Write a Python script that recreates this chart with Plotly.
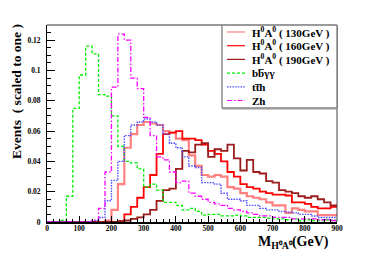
import plotly.graph_objects as go

# ---------------- data (20 GeV bins, 0..900 GeV) ----------------
bin_edges = list(range(0, 901, 20))

h130 = [0, 0, 0, 0, 0, 0, 0, 0, 0, 0.001,
        0.008, 0.025, 0.049, 0.058, 0.064, 0.066, 0.065, 0.064, 0.060, 0.059,
        0.055, 0.054, 0.044, 0.037, 0.031, 0.030, 0.031, 0.030, 0.023, 0.022,
        0.019, 0.017, 0.016, 0.015, 0.013, 0.011, 0.011, 0.006, 0.009, 0.008,
        0.007, 0.007, 0.0045, 0.0045, 0.0045]

h160 = [0, 0, 0, 0, 0, 0, 0, 0, 0, 0,
        0, 0.0005, 0.005, 0.010, 0.016, 0.023, 0.031, 0.045, 0.058, 0.059,
        0.060, 0.055, 0.055, 0.054, 0.051, 0.047, 0.045, 0.040, 0.033, 0.030,
        0.025, 0.023, 0.022, 0.020, 0.019, 0.018, 0.018, 0.0175, 0.013, 0.013,
        0.012, 0.010, 0.009, 0.009, 0.010]

h190 = [0, 0, 0, 0, 0, 0, 0, 0, 0, 0,
        0, 0.0005, 0.001, 0.002, 0.003, 0.005, 0.008, 0.014, 0.021, 0.022,
        0.035, 0.047, 0.046, 0.051, 0.052, 0.043, 0.048, 0.047, 0.051, 0.042,
        0.034, 0.041, 0.033, 0.032, 0.027, 0.026, 0.021, 0.020, 0.019, 0.017,
        0.016, 0.017, 0.015, 0.013, 0.011]

bbaa = [0, 0, 0.001, 0.017, 0.075, 0.097, 0.116, 0.111, 0.084, 0.083,
        0.070, 0.050, 0.040, 0.039, 0.035, 0.023, 0.025, 0.021, 0.013, 0.013,
        0.011, 0.008, 0.009, 0.007, 0.0045, 0.005, 0.005, 0.004, 0.004, 0.0045,
        0.004, 0.003, 0.003, 0.003, 0.0025, 0.002, 0.002, 0.0015, 0.002, 0.001,
        0.0015, 0.001, 0.001, 0.0015, 0.001]

tth = [0, 0, 0, 0, 0, 0, 0, 0.001, 0.003, 0.014,
       0.0275, 0.040, 0.057, 0.064, 0.066, 0.068, 0.066, 0.064, 0.058, 0.052,
       0.049, 0.043, 0.037, 0.036, 0.026, 0.026, 0.025, 0.019, 0.015, 0.015,
       0.014, 0.011, 0.011, 0.009, 0.008, 0.008, 0.007, 0.0065, 0.006, 0.005,
       0.005, 0.004, 0.003, 0.003, 0.003]

zh = [0, 0, 0, 0, 0, 0, 0, 0.001, 0.009, 0.033,
      0.089, 0.124, 0.120, 0.095, 0.088, 0.069, 0.057, 0.043, 0.041, 0.033,
      0.026, 0.027, 0.019, 0.017, 0.015, 0.013, 0.012, 0.011, 0.009, 0.008,
      0.007, 0.006, 0.005, 0.004, 0.004, 0.003, 0.003, 0.003, 0.002, 0.002,
      0.002, 0.002, 0.0015, 0.0015, 0.001]

legend_labels = ["H<sup>0</sup>A<sup>0</sup> ( 130GeV )",
                 "H<sup>0</sup>A<sup>0</sup> ( 160GeV )",
                 "H<sup>0</sup>A<sup>0</sup> ( 190GeV )",
                 "bb\u0305\u03b3\u03b3",
                 "tt\u0305h",
                 "Zh"]

x_ticks = list(range(0, 901, 100))
y_ticks = [0, 0.02, 0.04, 0.06, 0.08, 0.10, 0.12]
y_ticktext = ["0", "0.02", "0.04", "0.06", "0.08", "0.1", "0.12"]

# ---------------- styles ----------------
series = [h130, h160, h190, bbaa, tth, zh]
styles = [
    dict(color="#ff8080", width=2.2, dash="solid"),
    dict(color="#ff0000", width=1.8, dash="solid"),
    dict(color="#9a1c1c", width=1.8, dash="solid"),
    dict(color="#00ee00", width=1.3, dash="3px,2px"),
    dict(color="#4d4dff", width=1.4, dash="1.5px,1.2px"),
    dict(color="#ff00ff", width=1.3, dash="5px,2px,1.5px,2px"),
]

FONT = "Liberation Serif"

fig = go.Figure()
for vals, st, name in zip(series, styles, legend_labels):
    fig.add_trace(go.Scatter(
        x=bin_edges, y=list(vals) + [vals[-1]],
        mode="lines", line=dict(shape="hv", **st),
        name=name, showlegend=False, hoverinfo="skip"))

# The page body has an 8px margin, so the figure is drawn 8px in from the
# window's top-left corner; size and margins compensate for that.
OFF = 8
W, H = 374 - OFF, 253 - OFF
# plot area in window pixels
PL, PR, PT, PB = 47, 337, 25, 222
def px2x(px):
    return (px - PL) / (PR - PL)
def py2y(py):
    return (PB - py) / (PB - PT)

fig.update_layout(
    width=W, height=H,
    margin=dict(l=PL - OFF, r=W - (PR - OFF), t=PT - OFF, b=H - (PB - OFF), pad=0,
                autoexpand=False),
    plot_bgcolor="white", paper_bgcolor="white",
    showlegend=False,
    font=dict(family=FONT, color="black"),
)

fig.update_xaxes(
    range=[0, 900], tickvals=x_ticks,
    ticks="inside", ticklen=6, tickwidth=1, tickcolor="black",
    showline=True, linecolor="black", linewidth=1.5,
    showgrid=False, zeroline=False, automargin=False,
    tickfont=dict(family=FONT, size=7.5, weight="bold", color="black"),
    ticklabelstandoff=-2,
    minor=dict(ticks="inside", dtick=20, ticklen=3, tickcolor="black", showgrid=False),
)
fig.update_yaxes(
    range=[0, 0.13], tickvals=y_ticks, ticktext=y_ticktext,
    ticks="inside", ticklen=8, tickwidth=1, tickcolor="black",
    showline=True, linecolor="black", linewidth=1,
    showgrid=False, zeroline=False, automargin=False,
    tickfont=dict(family=FONT, size=7.5, weight="bold", color="black"),
    ticklabelstandoff=4,
    minor=dict(ticks="inside", dtick=0.005, ticklen=4, tickcolor="black", showgrid=False),
)

shapes = []
# frame top (grey) and right
shapes.append(dict(type="line", xref="paper", yref="paper", x0=0, x1=1, y0=1, y1=1,
                   line=dict(color="#9a9a9a", width=2), layer="above"))
shapes.append(dict(type="line", xref="paper", yref="paper", x0=1, x1=1, y0=0, y1=1,
                   line=dict(color="#444444", width=1), layer="above"))

# legend box
shapes.append(dict(type="rect", xref="paper", yref="paper",
                   x0=px2x(222), x1=1, y0=py2y(108), y1=1,
                   fillcolor="white", line=dict(color="#555555", width=1), layer="above"))
shapes.append(dict(type="line", xref="paper", yref="paper",
                   x0=px2x(222), x1=1, y0=py2y(108.5), y1=py2y(108.5),
                   line=dict(color="#999999", width=2), layer="above"))
shapes.append(dict(type="line", xref="paper", yref="paper", x0=px2x(222), x1=1, y0=1, y1=1,
                   line=dict(color="#9a9a9a", width=2), layer="above"))

annotations = []
row_y = [32, 45.7, 59.4, 73.1, 86.8, 100.5]
for ry, st, lab in zip(row_y, styles, legend_labels):
    shapes.append(dict(type="line", xref="paper", yref="paper",
                       x0=px2x(227), x1=px2x(245), y0=py2y(ry), y1=py2y(ry),
                       line=dict(color=st["color"], width=1.2, dash=st["dash"]),
                       layer="above"))
    annotations.append(dict(xref="paper", yref="paper", x=px2x(250), y=py2y(ry),
                            xanchor="left", yanchor="middle", showarrow=False,
                            text="<b>" + lab + "</b>",
                            font=dict(family=FONT, size=11, color="black")))

# axis titles
annotations.append(dict(xref="paper", yref="paper", x=px2x(16), y=py2y(92),
                        xanchor="center", yanchor="middle", showarrow=False,
                        textangle=-90,
                        text="<b>Events  ( scaled to one )</b>",
                        font=dict(family=FONT, size=13.5, color="black")))
annotations.append(dict(xref="paper", yref="paper", x=px2x(293), y=py2y(242),
                        xanchor="center", yanchor="middle", showarrow=False,
                        text="<b>M<sub>H\u2070A\u2070</sub>(GeV)</b>",
                        font=dict(family=FONT, size=14, color="black")))

fig.update_layout(shapes=shapes, annotations=annotations)
fig.write_html("out.html")
